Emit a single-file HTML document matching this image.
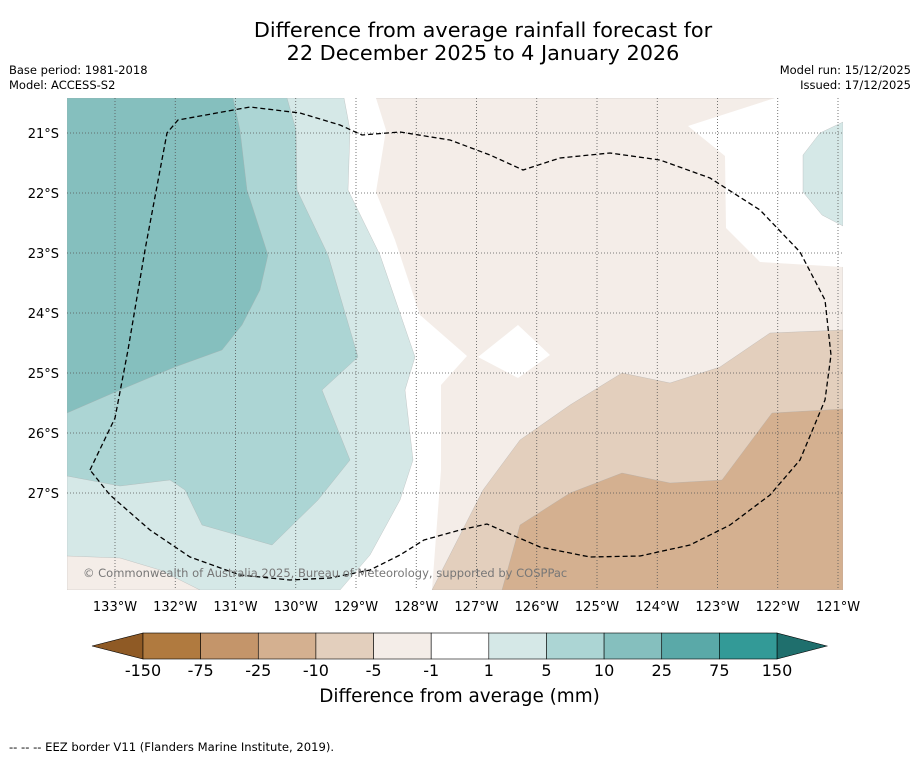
<!DOCTYPE html>
<html><head><meta charset="utf-8"><style>
body{margin:0;background:#fff;font-family:"DejaVu Sans","Liberation Sans",sans-serif;}
#wrap{position:relative;width:919px;height:758px;overflow:hidden;background:#fff}
.t{position:absolute;white-space:nowrap;color:#000}
</style></head><body>
<div id="wrap">
<div class="t" style="left:0;width:966px;text-align:center;top:19px;font-size:20.8px;line-height:23px">Difference from average rainfall forecast for<br>22 December 2025 to 4 January 2026</div>
<div class="t" style="left:9px;top:63px;font-size:11.5px;line-height:15px">Base period: 1981-2018<br>Model: ACCESS-S2</div>
<div class="t" style="right:8px;top:63px;font-size:11.5px;line-height:15px;text-align:right">Model run: 15/12/2025<br>Issued: 17/12/2025</div>
<svg id="svg" width="919" height="758" style="position:absolute;left:0;top:0"></svg>
<div class="t" style="left:0;width:919px;text-align:center;top:686px;font-size:18.4px">Difference from average (mm)</div>
<div class="t" style="left:9px;top:740px;font-size:11.6px">--  --  -- EEZ border V11 (Flanders Marine Institute, 2019).</div>
</div>
<script>
const cbLabels=["-150","-75","-25","-10","-5","-1","1","5","10","25","75","150"];
const cbColors=["#b07a3f","#c4956a","#d4b090","#e3cfbd","#f4ede8","#ffffff","#d5e8e7","#acd5d4","#85bfbe","#5aa9a8","#339a97"];
const lonTicks=[-133,-132,-131,-130,-129,-128,-127,-126,-125,-124,-123,-122,-121];
const latTicks=[-21,-22,-23,-24,-25,-26,-27];
const NS="http://www.w3.org/2000/svg";
const FONT='DejaVu Sans, Liberation Sans, sans-serif';
const svg=document.getElementById('svg');
const X0=67,X1=843,Y0=98,Y1=590;
function xLon(l){return 115+(l+133)*60.25;}
function yLat(l){return 133+(-21-l)*60;}
function mk(t,a,p){const e=document.createElementNS(NS,t);for(const k in a)e.setAttribute(k,a[k]);(p||svg).appendChild(e);return e;}
const contours=[
 {c:4,p:[[67,98],[843,98],[843,590],[67,590]]},
 {c:5,p:[[67,98],[376,98],[386,130],[376,192],[395,240],[420,315],[467,356],[441,385],[441,470],[432,590],[67,590]]},
 {c:6,p:[[67,98],[344,98],[350,130],[348,190],[380,255],[415,357],[405,390],[413,460],[400,500],[370,555],[340,590],[67,590]]},
 {c:7,p:[[67,98],[287,98],[296,130],[297,190],[328,255],[358,357],[322,390],[350,460],[318,500],[272,545],[202,525],[185,490],[170,480],[120,486],[67,476]]},
 {c:8,p:[[67,98],[233,98],[240,130],[247,190],[268,255],[260,290],[242,325],[222,350],[175,367],[120,390],[67,413]]},
 {c:5,p:[[688,126],[775,98],[843,98],[843,267],[760,262],[726,228],[725,156]]},
 {c:6,p:[[843,122],[820,133],[803,155],[803,192],[822,215],[843,226]]},
 {c:5,p:[[478,357],[518,325],[550,355],[518,378]]},
 {c:3,p:[[432,590],[483,490],[520,440],[570,405],[622,373],[670,383],[720,367],[770,333],[843,330],[843,590]]},
 {c:2,p:[[502,590],[520,525],[570,493],[622,473],[670,483],[722,480],[772,413],[843,409],[843,590]]},
 {c:4,p:[[67,556],[120,558],[160,570],[200,590],[67,590]]}
];
const g=mk('g',{'clip-path':'url(#clip)'});
const defs=mk('defs',{});const cp=mk('clipPath',{id:'clip'},defs);mk('rect',{x:X0,y:Y0,width:X1-X0,height:Y1-Y0},cp);
contours.forEach((c,i)=>{const e=mk('polygon',{points:c.p.map(q=>q.join(',')).join(' '),fill:cbColors[c.c],stroke:c.c==5?'none':'#aaa','stroke-width':c.c==5?0:0.3},g);

});
lonTicks.forEach(l=>{const x=xLon(l);
 const ln=mk('line',{x1:x,x2:x,y1:Y0,y2:Y1,stroke:'#555','stroke-width':0.8,'stroke-dasharray':'1,2'},g);
 
 
 const t=mk('text',{x:x,y:611,'font-size':13,'text-anchor':'middle','font-family':FONT});t.textContent=Math.abs(l)+'°W';
 
 });
latTicks.forEach(l=>{const y=yLat(l);
 const ln=mk('line',{x1:X0,x2:X1,y1:y,y2:y,stroke:'#555','stroke-width':0.8,'stroke-dasharray':'1,2'},g);
 
 
 const t=mk('text',{x:59,y:y+5,'font-size':13,'text-anchor':'end','font-family':FONT});t.textContent=Math.abs(l)+'°S';
 
 });
const eez=[[90,470],[115,418],[128,350],[145,250],[167,133],[178,120],[250,107],[300,113],[340,125],[362,135],[400,132],[450,140],[490,155],[523,170],[560,158],[610,153],[660,160],[710,178],[760,210],[800,252],[825,300],[831,355],[825,400],[800,460],[770,495],[730,525],[690,545],[640,556],[590,557],[540,547],[487,524],[460,530],[424,540],[400,555],[370,570],[330,578],[290,580],[240,575],[190,557],[150,530],[110,495],[90,470]];
const ez=mk('polyline',{points:eez.map(q=>q.join(',')).join(' '),fill:'none',stroke:'#000','stroke-width':1.3,'stroke-dasharray':'5,3'},g);


const cr=mk('text',{x:83,y:577,'font-size':11.5,fill:'#777','font-family':FONT},g);cr.textContent='© Commonwealth of Australia 2025, Bureau of Meteorology, supported by COSPPac';


const cbX0=143,cbX1=777,cbY=633,cbH=26,n=cbColors.length,w=(cbX1-cbX0)/n;
const lt=mk('polygon',{points:`92,646 ${cbX0},${cbY} ${cbX0},${cbY+cbH}`,fill:'#8f5a25',stroke:'#000','stroke-width':0.6});


const rt=mk('polygon',{points:`827,646 ${cbX1},${cbY} ${cbX1},${cbY+cbH}`,fill:'#1f6f6d',stroke:'#000','stroke-width':0.6});


cbColors.forEach((c,i)=>{const r=mk('rect',{x:cbX0+i*w,y:cbY,width:w,height:cbH,fill:c,stroke:'#000','stroke-width':0.6});
 
 });
cbLabels.forEach((s,i)=>{const t=mk('text',{x:cbX0+i*w,y:676,'font-size':16,'text-anchor':'middle','font-family':FONT});t.textContent=s;
 
 });
</script>
</body></html>
